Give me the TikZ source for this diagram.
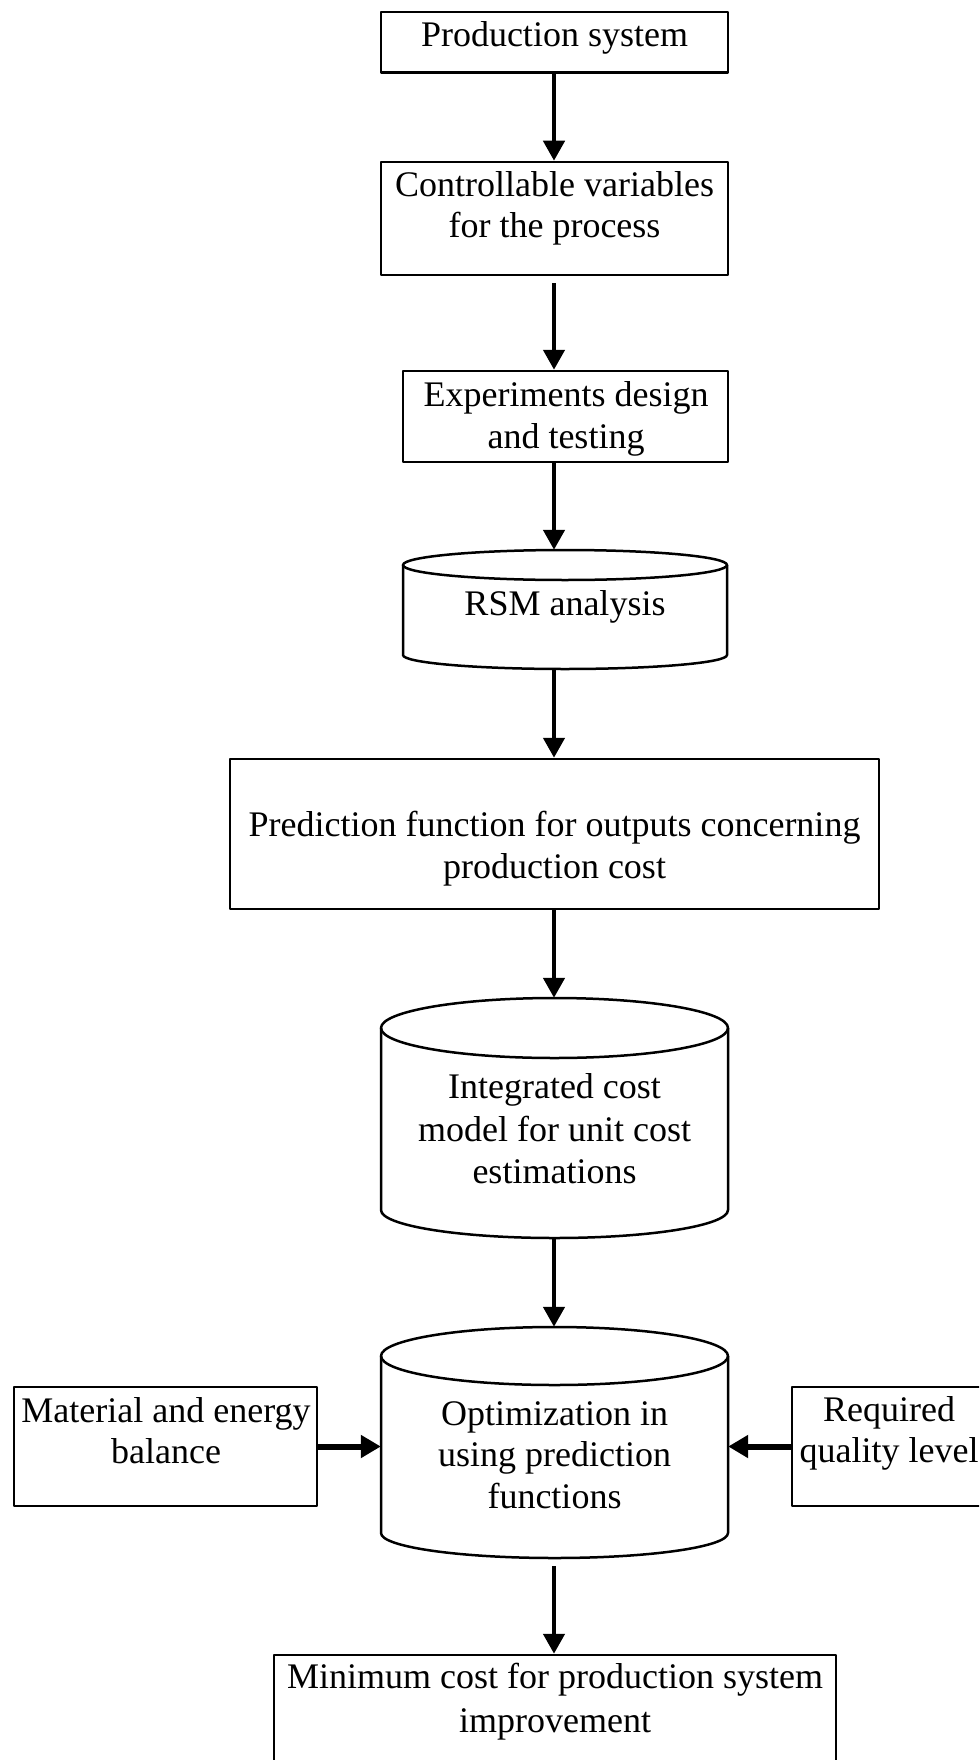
\documentclass[tikz,border=0pt]{standalone}
\usepackage{fontspec}
\setmainfont{Liberation Serif}
\usetikzlibrary{arrows.meta,calc}
\tikzset{
  shapeline/.style={line width=2.5pt, line join=round},
  boxnode/.style={draw, shapeline, rectangle, inner sep=0pt},
  txt/.style={anchor=base, inner sep=0pt, font=\fontsize{36}{41.5}\selectfont},
  arr/.style={line width=4.5pt, -{Triangle[length=20pt,width=21pt]}},
  sarr/.style={line width=6pt, -{Triangle[length=20pt,width=22pt]}},
}
% name, L, R, T, B, ry top, ry bottom  (y measured downward)
\newcommand\mycyl[7]{%
  \pgfmathsetmacro\cylcx{(#2+#3)/2}%
  \pgfmathsetmacro\cylw{#3-#2}%
  \pgfmathsetmacro\cylh{#5-#4}%
  \pgfmathsetmacro\cylcy{-(#4+#5)/2}%
  \pgfmathsetmacro\cylrx{(#3-#2)/2}%
  \node[inner sep=0pt, minimum width=\cylw pt, minimum height=\cylh pt] (#1) at (\cylcx,\cylcy) {};
  \draw[shapeline] (#2,-#4-#6) -- (#2,-#5+#7) arc[start angle=180, end angle=360, x radius=\cylrx pt, y radius=#7 pt] -- (#3,-#4-#6);
  \draw[shapeline] (\cylcx,-#4-#6) ellipse[x radius=\cylrx pt, y radius=#6 pt];
}
\newcommand\mybox[5]{% name, L, R, T, B
  \pgfmathsetmacro\bxcx{(#2+#3)/2}%
  \pgfmathsetmacro\bxw{#3-#2}%
  \pgfmathsetmacro\bxh{#5-#4}%
  \pgfmathsetmacro\bxcy{-(#4+#5)/2}%
  \node[boxnode, minimum width=\bxw pt, minimum height=\bxh pt] (#1) at (\bxcx,\bxcy) {};
}
\begin{document}
\begin{tikzpicture}[x=1pt,y=1pt]
\useasboundingbox (0,0) rectangle (979,-1760);
\clip (0,0) rectangle (979,-1760);
\fill[white] (0,0) rectangle (979,-1760);

\coordinate (ax) at (554,0);

% boxes
\mybox{ps}{381}{728}{12}{72.5}
\mybox{ctrl}{381}{728}{162}{275}
\mybox{exp}{403}{728}{371}{462}
\mycyl{rsm}{403}{727}{550}{669}{15}{14}
\mybox{pred}{230}{879}{759}{909}
\mycyl{integ}{381}{728}{998}{1238}{30}{28}
\mycyl{opt}{381}{728}{1327}{1558}{29}{25}
\mybox{mat}{14}{317}{1387}{1506}
\mybox{req}{792}{986}{1387}{1506}
\mybox{min}{274}{836}{1655}{1800}

% texts
\node[txt] (t1) at (554.5,-47) {Production system};
\node[txt] (t2a) at (554.5,-197) {Controllable variables};
\node[txt] (t2b) at (554.5,-238) {for the process};
\node[txt] (t3a) at (566,-406) {Experiments design};
\node[txt] (t3b) at (566,-448) {and testing};
\node[txt] (t4) at (565,-615) {RSM analysis};
\node[txt] (t5a) at (554.5,-836) {Prediction function for outputs concerning};
\node[txt] (t5b) at (554.5,-878) {production cost};
\node[txt] (t6a) at (554.5,-1098) {Integrated cost};
\node[txt] (t6b) at (554.5,-1141) {model for unit cost};
\node[txt] (t6c) at (554.5,-1183) {estimations};
\node[txt] (t7a) at (554.5,-1425) {Optimization in};
\node[txt] (t7b) at (554.5,-1466) {using prediction};
\node[txt] (t7c) at (554.5,-1508) {functions};
\node[txt] (t8a) at (166,-1422) {Material and energy};
\node[txt] (t8b) at (166,-1463) {balance};
\node[txt] (t9a) at (889,-1421) {Required};
\node[txt] (t9b) at (889,-1462) {quality level};
\node[txt] (t10a) at (555,-1688) {Minimum cost for production system};
\node[txt] (t10b) at (555,-1732) {improvement};

% connectors
\draw[arr] (ax |- ps.south) -- (ax |- ctrl.north);
\draw[arr, shorten <=7pt] (ax |- ctrl.south) -- (ax |- exp.north);
\draw[arr] (ax |- exp.south) -- (ax |- rsm.north);
\draw[arr] (ax |- rsm.south) -- (ax |- pred.north);
\draw[arr] (ax |- pred.south) -- (ax |- integ.north);
\draw[arr] (ax |- integ.south) -- (ax |- opt.north);
\draw[arr, shorten <=8pt] (ax |- opt.south) -- (ax |- min.north);
\draw[sarr] (mat.east) -- (mat.east -| opt.west);
\draw[sarr] (req.west) -- (req.west -| opt.east);
\end{tikzpicture}
\end{document}
